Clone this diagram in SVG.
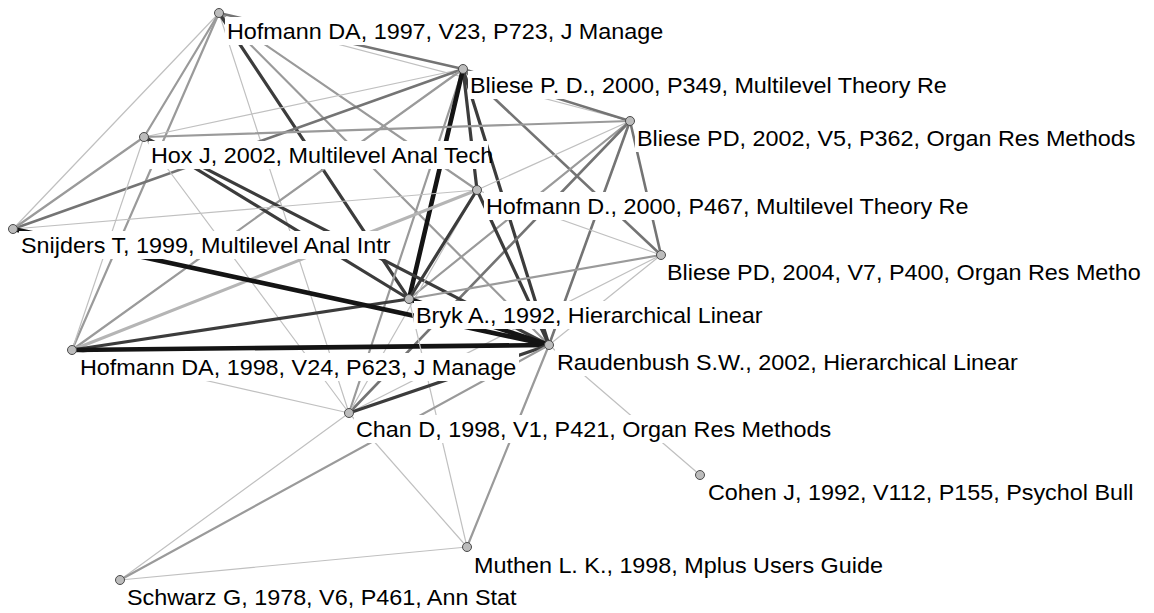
<svg xmlns="http://www.w3.org/2000/svg" width="1154" height="613" viewBox="0 0 1154 613">
  <defs>
    <style>
      .e1 { stroke: #c0c0c0; stroke-width: 1.2; fill: none; }
      .e2 { stroke: #9a9a9a; stroke-width: 2.2; fill: none; }
      .e2l { stroke: #b5b5b5; stroke-width: 3; fill: none; }
      .e3 { stroke: #747474; stroke-width: 2.6; fill: none; }
      .e4 { stroke: #3c3c3c; stroke-width: 3.2; fill: none; }
      .e5 { stroke: #141414; stroke-width: 4.6; fill: none; }
      .box { fill: #ffffff; }
      .lbl { font-family: "Liberation Sans", Arial, sans-serif; font-size: 21.5px; fill: #000; }
      .dot { fill: #bcbcbc; stroke: #4a4a4a; stroke-width: 1; }
    </style>
  </defs>
  <rect x="0" y="0" width="1154" height="613" fill="#ffffff"/>

  <!-- co-citation links -->
  <g id="connectors" stroke-linecap="round">
    <line class="e1" x1="219" y1="13" x2="13" y2="229"/>
    <line class="e2" x1="219" y1="13" x2="144" y2="137"/>
    <line class="e2" x1="219" y1="13" x2="72" y2="350"/>
    <line class="e1" x1="219" y1="13" x2="349" y2="413"/>
    <line class="e2" x1="219" y1="13" x2="549" y2="345"/>
    <line class="e2" x1="219" y1="13" x2="477" y2="190"/>
    <line class="e1" x1="219" y1="13" x2="630" y2="121"/>
    <line class="e3" x1="219" y1="13" x2="463" y2="69"/>
    <line class="e4" x1="219" y1="13" x2="409" y2="299"/>

    <line class="e1" x1="463" y1="69" x2="144" y2="137"/>
    <line class="e3" x1="463" y1="69" x2="13" y2="229"/>
    <line class="e2" x1="463" y1="69" x2="72" y2="350"/>
    <line class="e2" x1="463" y1="69" x2="349" y2="413"/>
    <line class="e3" x1="463" y1="69" x2="630" y2="121"/>
    <line class="e3" x1="463" y1="69" x2="661" y2="255"/>
    <line class="e4" x1="463" y1="69" x2="477" y2="190"/>
    <line class="e4" x1="463" y1="69" x2="549" y2="345"/>
    <line class="e5" x1="463" y1="69" x2="409" y2="299"/>

    <line class="e2" x1="630" y1="121" x2="144" y2="137"/>
    <line class="e1" x1="630" y1="121" x2="477" y2="190"/>
    <line class="e3" x1="630" y1="121" x2="661" y2="255"/>
    <line class="e2" x1="630" y1="121" x2="409" y2="299"/>
    <line class="e3" x1="630" y1="121" x2="549" y2="345"/>
    <line class="e3" x1="630" y1="121" x2="349" y2="413"/>

    <line class="e2" x1="144" y1="137" x2="13" y2="229"/>
    <line class="e1" x1="144" y1="137" x2="72" y2="350"/>
    <line class="e1" x1="144" y1="137" x2="349" y2="413"/>
    <line class="e4" x1="144" y1="137" x2="409" y2="299"/>
    <line class="e4" x1="144" y1="137" x2="549" y2="345"/>

    <line class="e1" x1="477" y1="190" x2="13" y2="229"/>
    <line class="e2l" x1="477" y1="190" x2="72" y2="350"/>
    <line class="e1" x1="477" y1="190" x2="661" y2="255"/>
    <line class="e1" x1="477" y1="190" x2="349" y2="413"/>
    <line class="e4" x1="477" y1="190" x2="409" y2="299"/>
    <line class="e4" x1="477" y1="190" x2="549" y2="345"/>

    <line class="e2" x1="661" y1="255" x2="409" y2="299"/>
    <line class="e1" x1="661" y1="255" x2="549" y2="345"/>
    <line class="e1" x1="661" y1="255" x2="349" y2="413"/>

    <line class="e4" x1="72" y1="350" x2="409" y2="299"/>
    <line class="e1" x1="72" y1="350" x2="349" y2="413"/>
    <line class="e5" x1="72" y1="350" x2="549" y2="345"/>
    <line class="e5" x1="13" y1="229" x2="549" y2="345"/>
    <line class="e5" x1="409" y1="299" x2="549" y2="345"/>
    <line class="e1" x1="409" y1="299" x2="467" y2="547"/>

    <line class="e4" x1="349" y1="413" x2="549" y2="345"/>
    <line class="e1" x1="349" y1="413" x2="467" y2="547"/>
    <line class="e1" x1="349" y1="413" x2="120" y2="580"/>
    <line class="e1" x1="549" y1="345" x2="700" y2="475"/>
    <line class="e2" x1="549" y1="345" x2="467" y2="547"/>
    <line class="e2" x1="549" y1="345" x2="120" y2="580"/>
    <line class="e1" x1="467" y1="547" x2="120" y2="580"/>
  </g>

  <!-- reference nodes: label plate, label, marker -->
  <g id="n-hofmann1997">
    <rect class="box" x="225" y="17" width="441" height="28"/>
    <text class="lbl" transform="translate(227 39) scale(1.087 1)">Hofmann DA, 1997, V23, P723, J Manage</text>
    <circle class="dot" cx="219" cy="13" r="4.5"/>
  </g>
  <g id="n-bliese2000">
    <rect class="box" x="468" y="71" width="473" height="28"/>
    <text class="lbl" transform="translate(470 93) scale(1.087 1)">Bliese P. D., 2000, P349, Multilevel Theory Re</text>
    <circle class="dot" cx="463" cy="69" r="4.5"/>
  </g>
  <g id="n-bliese2002">
    <rect class="box" x="635" y="124" width="503" height="28"/>
    <text class="lbl" transform="translate(637 146) scale(1.087 1)">Bliese PD, 2002, V5, P362, Organ Res Methods</text>
    <circle class="dot" cx="630" cy="121" r="4.5"/>
  </g>
  <g id="n-hox2002">
    <rect class="box" x="149" y="141" width="339" height="28"/>
    <text class="lbl" transform="translate(151 163) scale(1.087 1)">Hox J, 2002, Multilevel Anal Tech</text>
    <circle class="dot" cx="144" cy="137" r="4.5"/>
  </g>
  <g id="n-hofmann2000">
    <rect class="box" x="484" y="192" width="476" height="28"/>
    <text class="lbl" transform="translate(486 214) scale(1.087 1)">Hofmann D., 2000, P467, Multilevel Theory Re</text>
    <circle class="dot" cx="477" cy="190" r="4.5"/>
  </g>
  <g id="n-snijders1999">
    <rect class="box" x="19" y="231" width="366" height="28"/>
    <text class="lbl" transform="translate(21 253) scale(1.087 1)">Snijders T, 1999, Multilevel Anal Intr</text>
    <circle class="dot" cx="13" cy="229" r="4.5"/>
  </g>
  <g id="n-bliese2004">
    <rect class="box" x="665" y="258" width="478" height="28"/>
    <text class="lbl" transform="translate(667 280) scale(1.087 1)">Bliese PD, 2004, V7, P400, Organ Res Metho</text>
    <circle class="dot" cx="661" cy="255" r="4.5"/>
  </g>
  <g id="n-bryk1992">
    <rect class="box" x="414" y="301" width="352" height="28"/>
    <text class="lbl" transform="translate(416 323) scale(1.087 1)">Bryk A., 1992, Hierarchical Linear</text>
    <circle class="dot" cx="409" cy="299" r="4.5"/>
  </g>
  <g id="n-raudenbush2002">
    <rect class="box" x="555" y="348" width="466" height="28"/>
    <text class="lbl" transform="translate(557 370) scale(1.087 1)">Raudenbush S.W., 2002, Hierarchical Linear</text>
    <circle class="dot" cx="549" cy="345" r="4.5"/>
  </g>
  <g id="n-hofmann1998">
    <rect class="box" x="78" y="353" width="441" height="28"/>
    <text class="lbl" transform="translate(80 375) scale(1.087 1)">Hofmann DA, 1998, V24, P623, J Manage</text>
    <circle class="dot" cx="72" cy="350" r="4.5"/>
  </g>
  <g id="n-chan1998">
    <rect class="box" x="354" y="415" width="479" height="28"/>
    <text class="lbl" transform="translate(356 437) scale(1.087 1)">Chan D, 1998, V1, P421, Organ Res Methods</text>
    <circle class="dot" cx="349" cy="413" r="4.5"/>
  </g>
  <g id="n-cohen1992">
    <rect class="box" x="706" y="478" width="431" height="28"/>
    <text class="lbl" transform="translate(708 500) scale(1.087 1)">Cohen J, 1992, V112, P155, Psychol Bull</text>
    <circle class="dot" cx="700" cy="475" r="4.5"/>
  </g>
  <g id="n-muthen1998">
    <rect class="box" x="472" y="551" width="413" height="28"/>
    <text class="lbl" transform="translate(474 573) scale(1.087 1)">Muthen L. K., 1998, Mplus Users Guide</text>
    <circle class="dot" cx="467" cy="547" r="4.5"/>
  </g>
  <g id="n-schwarz1978">
    <rect class="box" x="125" y="583" width="395" height="28"/>
    <text class="lbl" transform="translate(127 605) scale(1.087 1)">Schwarz G, 1978, V6, P461, Ann Stat</text>
    <circle class="dot" cx="120" cy="580" r="4.5"/>
  </g>
</svg>
